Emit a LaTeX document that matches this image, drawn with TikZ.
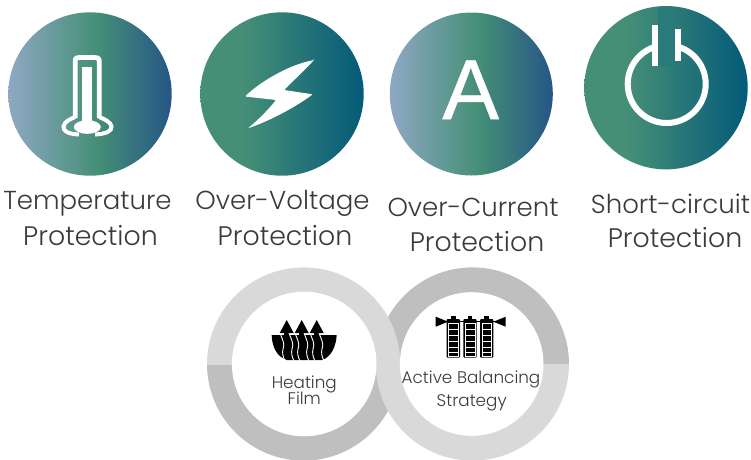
\documentclass[tikz,border=0pt]{standalone}
\usepackage{fontspec}
\setmainfont{Poppins}[UprightFont=* Light]
\newfontfamily\afont{Liberation Sans}[RawFeature={embolden=0.6}]
\definecolor{gblue}{HTML}{8FA8C4}
\definecolor{ggreen}{HTML}{458F76}
\definecolor{gnavy}{HTML}{265687}
\definecolor{gteal}{HTML}{045A7A}
\definecolor{patchteal}{HTML}{2A7A7C}
\definecolor{ringlight}{HTML}{D9D9D9}
\definecolor{ringdark}{HTML}{BFBFBF}
\definecolor{labelgray}{HTML}{3A3A3A}
\pgfdeclarehorizontalshading{tricolor}{100bp}{color(0bp)=(gblue); color(25bp)=(gblue); color(52bp)=(ggreen); color(75bp)=(gnavy); color(100bp)=(gnavy)}
\pgfdeclarehorizontalshading{bicolor}{100bp}{color(0bp)=(ggreen); color(38bp)=(ggreen); color(75bp)=(gteal); color(100bp)=(gteal)}
\tikzset{
  x=1pt,y=-1pt,
  biglabel/.style={font=\fontsize{26}{26}\selectfont,text=labelgray,anchor=base,inner sep=0pt},
  protlabel/.style={font=\fontsize{26.8}{26.8}\selectfont,text=labelgray,anchor=base,inner sep=0pt},
  smalllabel/.style={font=\fontsize{16.8}{16.8}\selectfont,text=labelgray,anchor=base,inner sep=0pt},
  wht/.style={fill=white,draw=none},
}
\newcommand{\halfring}[2]{%
  \begin{scope}\clip (#1-100,260) rectangle (#1+100,364);\fill[#2] (#1,364) circle[radius=96.6];\end{scope}}
\newcommand{\halfringlow}[2]{%
  \begin{scope}\clip (#1-100,364) rectangle (#1+100,470);\fill[#2] (#1,364) circle[radius=96.6];\end{scope}}
\begin{document}
\begin{tikzpicture}
\useasboundingbox (0,0) rectangle (751,459);
% gradient discs
\shade[shading=tricolor] (90,94) circle[radius=81.7];
\shade[shading=bicolor] (282,94) circle[radius=81.7];
\shade[shading=tricolor] (471.3,94) circle[radius=81.5];
\shade[shading=bicolor] (666,87.7) circle[radius=81.7];
% thermometer
\draw[white,line width=4.8pt,line join=round] (75.2,118) -- (75.2,61) .. controls (75.2,57.5) and (77,57.5) .. (80,57.5) -- (94,57.5) .. controls (97,57.5) and (99.2,57.5) .. (99.2,61) -- (99.2,118);
\draw[white,line width=4pt] (79,134.5) .. controls (68,134) and (63,131) .. (63.5,126.5) .. controls (64,122) and (70,119) .. (75.2,117);
\draw[white,line width=4pt] (95,134.5) .. controls (106,134) and (112,131) .. (111.5,126.5) .. controls (111,122) and (104,119) .. (99.2,117);
\fill[wht] (82.3,66.7) rectangle (92.3,122);
\fill[wht] (87.3,127) ellipse[x radius=13.5,y radius=6.8];
% lightning
\fill[wht,rounded corners=1pt] (314,60) .. controls (288,65) and (260,82) .. (245,96.5) -- (276,100) .. controls (268,110) and (258,120) .. (248,128.3) .. controls (272,120) and (297,106) .. (312.7,94.3) -- (284,90) .. controls (294,80) and (305,70) .. (314,60) -- cycle;
% A
\node[anchor=base,inner sep=0pt,text=white,font=\afont\fontsize{85}{85}\selectfont] (ampere) at (470.7,119) {A};
% power symbol
\draw[white,line width=6pt] (666.7,84) circle[radius=39];
\fill[patchteal] (658.3,8) rectangle (675,65.7);
\fill[wht] (652,24.7) rectangle (658.3,65.7);
\fill[wht] (675,29) rectangle (681,61);
% labels
\node[biglabel] (t1) at (87.5,209.5) {Temperature};
\node[protlabel] (t2) at (90.5,245) {Protection};
\node[biglabel] (v1) at (282.5,209.5) {Over-Voltage};
\node[protlabel] (v2) at (285,245) {Protection};
\node[biglabel] (c1) at (473,216.5) {Over-Current};
\node[protlabel] (c2) at (477,251) {Protection};
\node[biglabel] (s1) at (670.5,213.5) {Short-circuit};
\node[protlabel] (s2) at (675,247.5) {Protection};
% rings
\halfringlow{303.6}{ringdark}
\halfring{472.4}{ringdark}
\halfring{303.6}{ringlight}
\halfringlow{472.4}{ringlight}
\fill[wht] (304.2,364) circle[radius=72.3];
\fill[wht] (471.7,364) circle[radius=71.8];
% heating film icon
\fill[black] (271.7,335) .. controls (272,347) and (277,357) .. (287,360) -- (322,360) .. controls (331,357) and (336,347) .. (336.7,335) -- cycle;
\foreach \ax in {286.7,301.7,316.7}{
  \fill[black] (\ax,320) -- (\ax+7,333) -- (\ax-7,333) -- cycle;
  \fill[black] (\ax-3,332) rectangle (\ax+3,340);
}
\foreach \ax in {280,289,295,304,310,319}{
  \draw[white,line width=0.9pt] (\ax,333) .. controls (\ax+3,341) and (\ax+5,344) .. (\ax+3,349) .. controls (\ax+2,353) and (\ax+3,357) .. (\ax+5,361);
}
% battery icon
\fill[black] (435.7,316.7) -- (448,321.7) -- (435.7,326.7) -- cycle;
\fill[black] (505.7,316.7) -- (493.4,321.7) -- (505.7,326.7) -- cycle;
\draw[black,line width=0.8pt] (445,321) -- (496,321);
\foreach \bx in {446.7,463.3,480}{
  \fill[black] (\bx+4.3,315.5) rectangle (\bx+9,320);
  \fill[black,rounded corners=1pt] (\bx,319) rectangle (\bx+13.3,357.7);
  \draw[white,line width=0.45pt] (\bx+1.8,323) rectangle (\bx+11.5,355.8);
  \foreach \cy in {329,335,341,347,352}{
    \draw[white,line width=0.45pt] (\bx+1.8,\cy) -- (\bx+11.5,\cy);
  }
}
\node[smalllabel] (h1) at (304.3,388.5) {Heating};
\node[smalllabel] (h2) at (304.3,404.3) {Film};
\node[smalllabel] (a1) at (471,383) {Active Balancing};
\node[smalllabel] (a2) at (471.7,406.7) {Strategy};
\end{tikzpicture}
\end{document}
